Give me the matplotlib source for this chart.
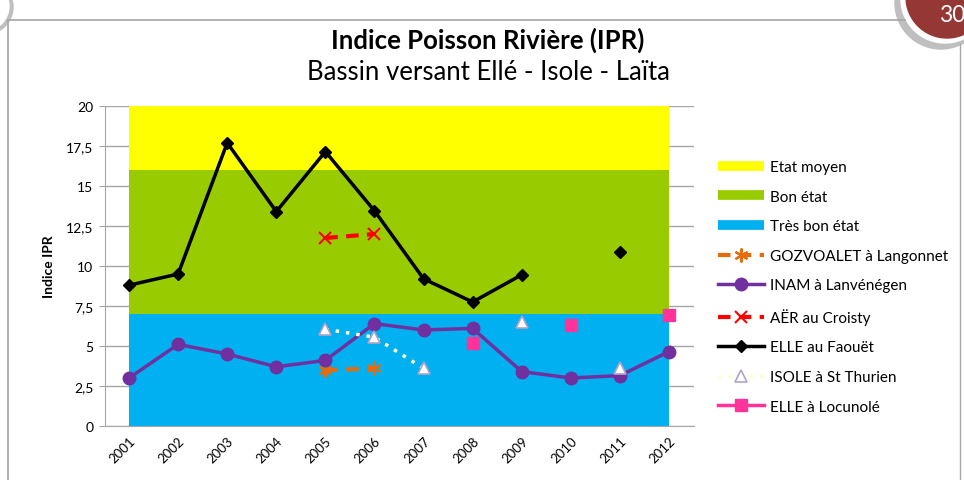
import numpy as np
import matplotlib
matplotlib.use('Agg')
import matplotlib.pyplot as plt
from matplotlib.patches import Circle
from matplotlib.lines import Line2D

plt.rcParams['font.family'] = ['Lato', 'DejaVu Sans']

nan = np.nan
years = [2001, 2002, 2003, 2004, 2005, 2006, 2007, 2008, 2009, 2010, 2011, 2012]
year_labels = [str(y) for y in years]

# classes d'etat (aires empilees)
tres_bon = [7] * 12
bon = [9] * 12
moyen = [4] * 12

gozvoalet = [nan, nan, nan, nan, 3.5, 3.6, nan, nan, nan, nan, nan, nan]
inam = [3.0, 5.1, 4.5, 3.7, 4.1, 6.4, 6.0, 6.1, 3.4, 3.0, 3.15, 4.65]
aer = [nan, nan, nan, nan, 11.75, 12.0, nan, nan, nan, nan, nan, nan]
elle_faouet = [8.8, 9.5, 17.7, 13.4, 17.15, 13.45, 9.2, 7.75, 9.45, nan, 10.9, nan]
isole = [nan, nan, nan, nan, 6.05, 5.55, 3.6, nan, 6.5, nan, 3.65, nan]
elle_locunole = [nan, nan, nan, nan, nan, nan, nan, 5.2, nan, 6.3, nan, 6.95]

yticks = [0, 2.5, 5, 7.5, 10, 12.5, 15, 17.5, 20]
ytick_labels = ['0', '2,5', '5', '7,5', '10', '12,5', '15', '17,5', '20']

W, H = 964, 481
fig = plt.figure(figsize=(W / 100, H / 100), dpi=100)
fig.patch.set_facecolor('white')

# calque en pixels pour le cadre de la diapositive
deco = fig.add_axes([0, 0, 1, 1])
deco.set_xlim(0, W)
deco.set_ylim(H, 0)
deco.axis('off')
deco.plot([8, 905], [21, 21], color='#A6A6A6', lw=1.2)
deco.plot([8, 8], [21, H], color='#A6A6A6', lw=1.2)
deco.plot([960, 960], [45, H], color='#A6A6A6', lw=1.0)
deco.add_patch(Circle((941, 4), 46, color='#BFBFBF'))
deco.add_patch(Circle((945, 0), 44, color='white'))
deco.add_patch(Circle((947, -2), 41, color='#953735'))
deco.text(952, 15, '30', color='white', fontsize=16.5, ha='center', va='center')
deco.add_patch(Circle((-14, 8), 27, color='#BFBFBF'))
deco.add_patch(Circle((-16, 7), 25, color='white'))

ax = fig.add_axes([104.5 / W, 1 - 427 / H, 589 / W, 320 / H])
ax.stackplot(years, tres_bon, bon, moyen, colors=['#00B0F0', '#99CC00', '#FFFF00'],
             labels=['Très bon état', 'Bon état', 'Etat moyen'], zorder=1)

ax.plot(years, gozvoalet, color='#E46C0A', lw=3, ls=(0, (3, 2)), marker=(6, 2, 0),
        ms=10, mew=1.5, label='GOZVOALET à Langonnet', zorder=3)
ax.plot(years, inam, color='#7030A0', lw=2.5, marker='o', ms=9, label='INAM à Lanvénégen', zorder=3)
ax.plot(years, aer, color='#FF0000', lw=3, ls=(0, (3, 2)), marker='x', ms=9, mew=1.5,
        label='AËR au Croisty', zorder=3)
ax.plot(years, elle_faouet, color='black', lw=2.5, marker='D', ms=6, label='ELLE au Faouët', zorder=4)
ax.plot(years, isole, color='#FFFFCC', lw=2.5, ls=(0, (1, 2)), marker='^', ms=9, mfc='white',
        mec='#B3A2C7', mew=1.2, label='ISOLE à St Thurien', zorder=3)
ax.plot(years, elle_locunole, color='#FF3399', lw=2.5, marker='s', ms=8, label='ELLE à Locunolé', zorder=3)

ax.set_xlim(2000.5, 2012.5)
ax.set_ylim(0, 20)
ax.set_yticks(yticks)
ax.set_yticklabels(ytick_labels, fontsize=10)
ax.set_xticks(years)
ax.set_xticklabels(year_labels, rotation=45, fontsize=9.5, ha='right', rotation_mode='anchor')
ax.tick_params(axis='x', length=0, pad=6)
ax.tick_params(axis='y', length=4, color='#A6A6A6', pad=4)
ax.grid(axis='y', color='#A6A6A6', lw=1)
ax.set_axisbelow(True)
for s in ['top', 'right']:
    ax.spines[s].set_visible(False)
for s in ['left', 'bottom']:
    ax.spines[s].set_color('#A6A6A6')
ax.set_facecolor('white')
ax.set_ylabel('Indice IPR', fontsize=10, fontweight='bold', labelpad=8)

handles, labels = ax.get_legend_handles_labels()
order = ['Etat moyen', 'Bon état', 'Très bon état', 'GOZVOALET à Langonnet', 'INAM à Lanvénégen',
         'AËR au Croisty', 'ELLE au Faouët', 'ISOLE à St Thurien', 'ELLE à Locunolé']
hmap = dict(zip(labels, handles))
leg_handles = []
for lab in order:
    h = hmap[lab]
    if lab in ('Etat moyen', 'Bon état', 'Très bon état'):
        leg_handles.append(Line2D([], [], color=h.get_facecolor()[0], lw=7, solid_capstyle='butt'))
    else:
        leg_handles.append(h)
fig.legend(leg_handles, order, loc='upper left', bbox_to_anchor=(712 / W, 1 - 155 / H),
           frameon=False, fontsize=11, labelspacing=1.02, handlelength=3.0, handletextpad=0.4,
           borderaxespad=0)

fig.text(488 / W, 1 - 40 / H, 'Indice Poisson Rivière (IPR)', ha='center', va='center',
         fontsize=18.5, fontweight='bold')
fig.text(488 / W, 1 - 72 / H, 'Bassin versant Ellé - Isole - Laïta', ha='center', va='center',
         fontsize=18.5)

fig.savefig('out.png', dpi=100)
